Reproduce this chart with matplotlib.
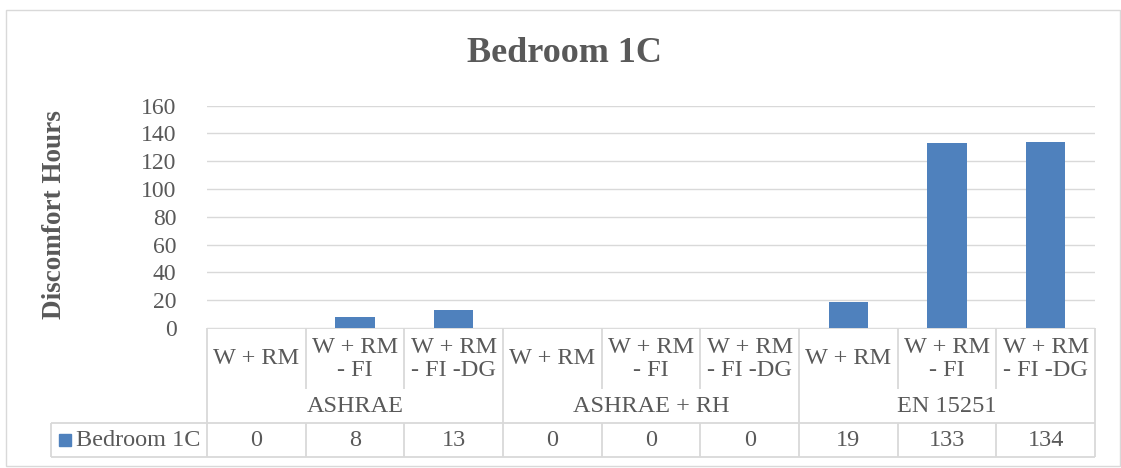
import matplotlib
matplotlib.use("Agg")
import matplotlib.pyplot as plt
from matplotlib.transforms import blended_transform_factory
from matplotlib.patches import Rectangle

# ---- data ----
groups = ["ASHRAE", "ASHRAE + RH", "EN 15251"]
scenarios = ["W + RM", "W + RM\n- FI", "W + RM\n- FI -DG"]
series_name = "Bedroom 1C"
values = [0, 8, 13, 0, 0, 0, 19, 133, 134]
y_ticks = [0, 20, 40, 60, 80, 100, 120, 140, 160]

BAR = "#4f81bd"
TXT = "#595959"
GRID = "#d9d9d9"
FONT = "Liberation Serif"

W, H = 1121, 468
fig = plt.figure(figsize=(W / 100, H / 100), dpi=100)
plt.rcParams["font.family"] = [FONT, "DejaVu Serif"]

# overlay in pixel coordinates (y downwards) for frame and table
ov = fig.add_axes([0, 0, 1, 1])
ov.set_xlim(0, W)
ov.set_ylim(H, 0)
ov.axis("off")
ov.add_patch(Rectangle((6, 10), W - 6 - 1, H - 10 - 2, fill=False,
                       edgecolor=GRID, lw=1.0))

# plot area
x0, x1 = 207, 1095
ytop, ybot = 105.5, 328
ax = fig.add_axes([x0 / W, (H - ybot) / H, (x1 - x0) / W, (ybot - ytop) / H])
n = len(values)
xs = list(range(n))
ax.bar(xs, values, width=0.4, color=BAR, zorder=3)
ax.set_xlim(-0.5, n - 0.5)
ax.set_ylim(0, 160)
ax.set_yticks(y_ticks)
ax.yaxis.grid(True, color=GRID, lw=1.0, zorder=0)
ax.set_xticks([])
for s in ax.spines.values():
    s.set_visible(False)
ax.tick_params(axis="y", length=0, pad=22, labelsize=17, labelcolor=TXT)
for lbl in ax.get_yticklabels():
    lbl.set_fontfamily(FONT)

# title and axis label
fig.text(564 / W, 1 - 53 / H, "Bedroom 1C", ha="center", va="center",
         fontsize=26, fontweight="bold", color=TXT, family=FONT)
fig.text(55 / W, 1 - 215 / H, "Discomfort Hours", ha="center", va="center",
         rotation=90, fontsize=19.5, fontweight="bold", color=TXT, family=FONT)

# data table below the axis: x in category units, y in pixels
tr = blended_transform_factory(ax.transData, ov.transData)
lw_t = 1.3
y_cat_end = 389
y_grp_line = 423
y_bottom = 457
left_cell = 51

def hline(xa, xb, y, t=tr):
    ov.plot([xa, xb], [y, y], color=GRID, lw=lw_t, transform=t,
            clip_on=False, solid_capstyle="butt")

def vline(x, ya, yb, t=tr):
    ov.plot([x, x], [ya, yb], color=GRID, lw=lw_t, transform=t,
            clip_on=False, solid_capstyle="butt")

hline(-0.5, n - 0.5, ybot)
hline(-0.5, n - 0.5, y_grp_line)
hline(-0.5, n - 0.5, y_bottom)
hline(left_cell, x0, y_grp_line, t=ov.transData)
hline(left_cell, x0, y_bottom, t=ov.transData)
vline(left_cell, y_grp_line, y_bottom, t=ov.transData)

ng = len(scenarios)
for k in range(n + 1):
    xb = k - 0.5
    if k % ng == 0:
        vline(xb, ybot, y_bottom)
    else:
        vline(xb, ybot, y_cat_end)
        vline(xb, y_grp_line, y_bottom)

tsize = 17.5
for i, v in enumerate(values):
    ov.text(i, 359, scenarios[i % ng], transform=tr,
            ha="center", va="center", fontsize=tsize, color=TXT,
            family=FONT, linespacing=1.15)
    ov.text(i, 441, str(v), transform=tr, ha="center", va="center",
            fontsize=tsize, color=TXT, family=FONT)
for g, name in enumerate(groups):
    ov.text(g * ng + (ng - 1) / 2, 407, name, transform=tr, ha="center",
            va="center", fontsize=tsize, color=TXT, family=FONT)

# legend key inside the table
ov.add_patch(Rectangle((59, 434), 12, 12, color=BAR))
ov.text(76, 441, series_name, ha="left", va="center", fontsize=tsize,
        color=TXT, family=FONT)

fig.savefig("out.png", dpi=100)
